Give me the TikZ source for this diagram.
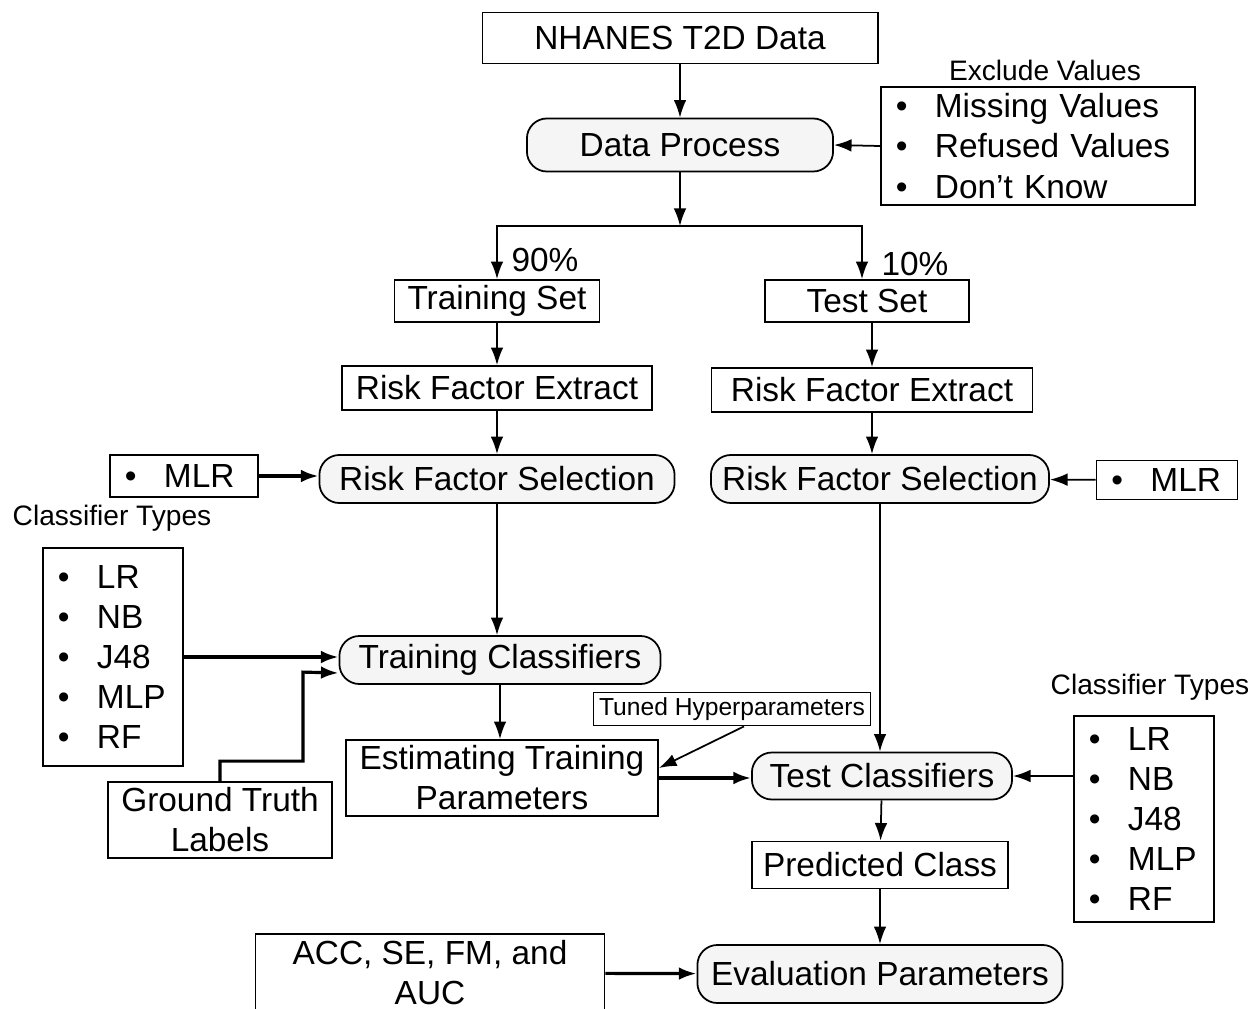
\documentclass[tikz,border=0pt]{standalone}
\usepackage{fontspec}
\setmainfont{Liberation Sans}
\usetikzlibrary{arrows.meta}
\newcommand{\itm}[1]{\makebox[0.39cm][l]{\textbullet}#1}
\begin{document}
\begin{tikzpicture}[>={Latex[length=5pt,width=3.6pt]}, x=0.01cm, y=-0.01cm, line width=0.5pt,
  every node/.style={font=\fontsize{9.5}{11.4}\selectfont, inner sep=0pt},
  box/.style={draw},
  rbox/.style={draw, rounded corners=0.2cm, fill=gray!8},
  lst/.style={draw, align=left, inner xsep=0.15cm},
  small/.style={font=\fontsize{8}{9.6}\selectfont}]
\useasboundingbox (0,0) rectangle (1260,1009);
\clip (0,0) rectangle (1260,1009);
\node[box, minimum width=3.95cm, minimum height=0.51cm] (nhanes) at (680,38) {NHANES T2D Data};
\node[rbox, minimum width=3.06cm, minimum height=0.53cm] (dproc) at (680,145) {Data Process};
\node[lst, text width=2.84cm, minimum height=1.18cm] (excl) at (1038,146) {\itm{Missing Values}\\\itm{Refused Values}\\\itm{Don’t Know}};
\node[small] (exlbl) at (1045,70) {Exclude Values};
\coordinate (split) at (680,226);
\node[box, minimum width=2.05cm, minimum height=0.42cm] (trset) at (497,301) {Training Set};
\node[box, minimum width=2.04cm, minimum height=0.42cm] (teset) at (867,301) {Test Set};
\node (p90) at (545,260) {90\%};
\node (p10) at (915,264) {10\%};
\node[box, minimum width=3.10cm, minimum height=0.44cm] (rfe1) at (497,388) {Risk Factor Extract};
\node[box, minimum width=3.21cm, minimum height=0.44cm] (rfe2) at (872,390) {Risk Factor Extract};
\node[rbox, minimum width=3.55cm, minimum height=0.48cm] (rfs1) at (497,479) {Risk Factor Selection};
\node[rbox, minimum width=3.38cm, minimum height=0.48cm] (rfs2) at (880,479) {Risk Factor Selection};
\node[lst, text width=1.18cm, minimum height=0.42cm] (mlr1) at (184,476) {\itm{MLR}};
\node[lst, text width=1.11cm, minimum height=0.39cm] (mlr2) at (1167,480) {\itm{MLR}};
\node[small] (ctl1) at (112,518) {Classifier Types};
\node[lst, text width=1.10cm, minimum height=2.18cm] (cls1) at (113,657) {\itm{LR}\\\itm{NB}\\\itm{J48}\\\itm{MLP}\\\itm{RF}};
\node[rbox, minimum width=3.21cm, minimum height=0.48cm] (trcl) at (500,660) {Training Classifiers};
\node[box, minimum width=2.24cm, minimum height=0.76cm, align=center] (gtl) at (220,820) {Ground Truth\\Labels};
\node[box, minimum width=3.12cm, minimum height=0.76cm, align=center] (etp) at (502,778) {Estimating Training\\Parameters};
\node[box, minimum width=2.77cm, minimum height=0.33cm, font=\fontsize{7}{8.4}\selectfont] (thp) at (732,709) {Tuned Hyperparameters};
\node[rbox, minimum width=2.60cm, minimum height=0.47cm] (tecl) at (882,776) {Test Classifiers};
\node[small] (ctl2) at (1150,687) {Classifier Types};
\node[lst, text width=1.10cm, minimum height=2.06cm] (cls2) at (1144,819) {\itm{LR}\\\itm{NB}\\\itm{J48}\\\itm{MLP}\\\itm{RF}};
\node[box, minimum width=2.56cm, minimum height=0.47cm] (pcls) at (880,865) {Predicted Class};
\node[rbox, minimum width=3.65cm, minimum height=0.58cm] (evp) at (880,974) {Evaluation Parameters};
\node[box, minimum width=3.49cm, minimum height=0.78cm, align=center] (acc) at (430,973) {ACC, SE, FM, and\\AUC};
% connectors
\draw[->] (nhanes) -- (dproc);
\draw[->] (excl.west) -- (dproc.east);
\draw[->] (dproc) -- (split);
\draw[->] (split) -| (trset.north);
\draw[->] (split) -| ([xshift=-0.05cm]teset.north);
\draw[->] (trset) -- (rfe1);
\draw[->] (rfe2 |- teset.south) -- (rfe2);
\draw[->] (rfe1) -- (rfs1);
\draw[->] (rfe2.south) -- (rfe2.south |- rfs2.north);
\draw[->, line width=0.9pt] (mlr1.east) -- (mlr1.east -| rfs1.west);
\draw[->] (mlr2) -- (rfs2);
\draw[->] (rfs1) -- (rfs1 |- trcl.north);
\draw[->, line width=0.9pt] (cls1.east) -- (cls1.east -| trcl.west);
\draw[->, line width=0.9pt] (gtl.north) -- ++(0,-20) -| ++(83,-89) -- ([yshift=-0.13cm]trcl.west);
\draw[->] (trcl) -- (trcl |- etp.north);
\draw[->] ([xshift=0.12cm]thp.south) -- ([yshift=0.1cm]etp.east);
\draw[->, line width=0.9pt] (etp.east) -- (etp.east -| tecl.west);
\draw[->] (rfs2) -- (rfs2 |- tecl.north);
\draw[->] (cls2.west |- tecl) -- (tecl.east);
\draw[->] (tecl) -- (pcls);
\draw[->] (pcls) -- (evp);
\draw[->, line width=0.9pt] (acc) -- (evp);
\end{tikzpicture}
\end{document}
